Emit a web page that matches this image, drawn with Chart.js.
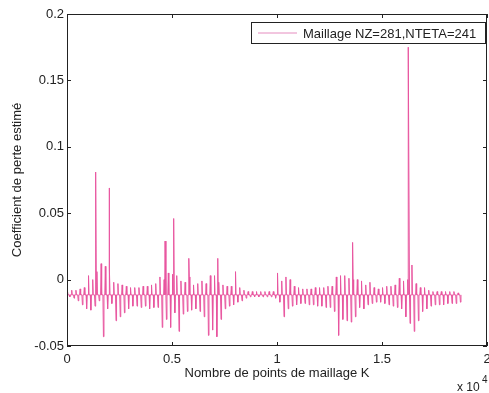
<!DOCTYPE html>
<html>
<head>
<meta charset="utf-8">
<script src="https://cdn.jsdelivr.net/npm/chart.js@4/dist/chart.umd.min.js"></script>
<style>
  html, body { margin: 0; padding: 0; background: #fff; }
  canvas { display: block; }
</style>
</head>
<body>
<canvas id="chart" width="489" height="393"></canvas>
<script>
const seriesLabel = 'Maillage NZ=281,NTETA=241';
const xTicks = [0, 5000, 10000, 15000, 20000];
const yTicks = [-0.05, 0, 0.05, 0.1, 0.15, 0.2];

// repeating ripple: one up tick and one down tick every 200 points
const periodK = 200;
const rippleBase = -0.0115;
const rippleHigh = [
  -0.009, -0.008, -0.008, -0.007, -0.006, 0.003, 0.000, 0.006, 0.012, 0.010,
  0.008, -0.002, -0.003, -0.004, -0.005, -0.006, -0.006, -0.006, -0.005, -0.005,
  -0.004, -0.003, 0.002, 0.000, 0.005, 0.004, 0.003, -0.001, -0.002, 0.002,
  -0.004, -0.003, -0.001, -0.003, 0.003, 0.003, -0.002, -0.004, -0.005, -0.005,
  0.006, -0.006, -0.008, -0.009, -0.009, -0.009, -0.009, -0.009, -0.009, -0.009,
  0.005, -0.001, 0.002, 0.000, -0.005, -0.006, -0.007, -0.007, -0.007, -0.006,
  -0.006, -0.006, -0.005, -0.005, 0.002, 0.003, 0.003, 0.001, 0.000, 0.000,
  -0.001, -0.004, -0.002, -0.006, -0.007, -0.006, -0.005, -0.005, -0.004, 0.001,
  -0.001, 0.000, 0.011, -0.003, -0.006, -0.006, -0.008, -0.009, -0.009, -0.009,
  -0.009, -0.009, -0.009, -0.010
];
const rippleLow = [
  -0.013, -0.014, -0.016, -0.019, -0.022, -0.023, -0.020, -0.016, -0.043, -0.022,
  -0.018, -0.031, -0.028, -0.025, -0.022, -0.020, -0.020, -0.021, -0.020, -0.022,
  -0.021, -0.021, -0.036, -0.030, -0.036, -0.025, -0.039, -0.026, -0.024, -0.023,
  -0.022, -0.024, -0.028, -0.042, -0.038, -0.043, -0.030, -0.022, -0.020, -0.019,
  -0.017, -0.016, -0.014, -0.013, -0.013, -0.013, -0.013, -0.013, -0.013, -0.014,
  -0.017, -0.028, -0.022, -0.020, -0.019, -0.018, -0.018, -0.019, -0.019, -0.020,
  -0.020, -0.021, -0.021, -0.024, -0.042, -0.030, -0.031, -0.032, -0.028, -0.021,
  -0.022, -0.019, -0.018, -0.017, -0.017, -0.018, -0.019, -0.020, -0.021, -0.022,
  -0.028, -0.033, -0.039, -0.031, -0.024, -0.022, -0.020, -0.019, -0.019, -0.019,
  -0.018, -0.018, -0.018, -0.017
];

// isolated tall peaks
const spikeK = [1370, 2010, 4670, 5080, 5800, 7180, 13600, 16250];
const spikeCoef = [0.081, 0.069, 0.029, 0.046, 0.016, 0.016, 0.028, 0.175];

// build line points: narrow up tick then narrow down tick, flat in between
const points = [];
rippleHigh.forEach((hi, i) => {
  const k = i * periodK;
  points.push({ x: k, y: rippleBase });
  points.push({ x: k + 25, y: hi });
  points.push({ x: k + 50, y: rippleBase });
  points.push({ x: k + 110, y: rippleBase });
  points.push({ x: k + 135, y: rippleLow[i] });
  points.push({ x: k + 160, y: rippleBase });
});
spikeK.forEach((k, i) => points.push({ x: k, y: spikeCoef[i] }));
points.sort((a, b) => a.x - b.x);

const lineColor = '#e8559f';
const axisColor = '#222';
const fontFamily = '"Liberation Sans", Arial, sans-serif';

// box + inward ticks like matlab
const framePlugin = {
  id: 'frame',
  afterDraw(chart) {
    const { ctx, chartArea: a, scales } = chart;
    ctx.save();
    ctx.strokeStyle = axisColor;
    ctx.lineWidth = 1;
    ctx.strokeRect(a.left + 0.5, a.top + 0.5, a.right - a.left - 1, a.bottom - a.top - 1);
    const len = 4;
    ctx.beginPath();
    xTicks.forEach(v => {
      const px = Math.round(scales.x.getPixelForValue(v)) + 0.5;
      ctx.moveTo(px, a.bottom); ctx.lineTo(px, a.bottom - len);
      ctx.moveTo(px, a.top); ctx.lineTo(px, a.top + len);
    });
    yTicks.forEach(v => {
      const py = Math.round(scales.y.getPixelForValue(v)) + 0.5;
      ctx.moveTo(a.left, py); ctx.lineTo(a.left + len, py);
      ctx.moveTo(a.right, py); ctx.lineTo(a.right - len, py);
    });
    ctx.stroke();

    // exponent label
    ctx.fillStyle = axisColor;
    ctx.textBaseline = 'alphabetic';
    ctx.textAlign = 'left';
    ctx.font = '12px ' + fontFamily;
    ctx.fillText('x 10', 457, 391);
    ctx.font = '10px ' + fontFamily;
    ctx.fillText('4', 482, 383);

    // legend box
    const bx = a.right - 236, by = a.top + 8, bw = 235, bh = 22;
    ctx.fillStyle = '#fff';
    ctx.fillRect(bx, by, bw, bh);
    ctx.strokeRect(bx + 0.5, by + 0.5, bw - 1, bh - 1);
    const my = by + bh / 2;
    ctx.strokeStyle = '#e58cbf';
    ctx.beginPath();
    ctx.moveTo(bx + 7, my); ctx.lineTo(bx + 46, my);
    ctx.stroke();
    ctx.fillStyle = axisColor;
    ctx.font = '13px ' + fontFamily;
    ctx.textBaseline = 'middle';
    ctx.fillText(chart.data.datasets[0].label, bx + 52, my + 1);
    ctx.restore();
  }
};

new Chart(document.getElementById('chart'), {
  type: 'line',
  data: {
    datasets: [{
      label: seriesLabel,
      data: points,
      borderColor: lineColor,
      borderWidth: 1,
      pointRadius: 0,
      tension: 0,
      fill: false
    }]
  },
  options: {
    responsive: false,
    animation: false,
    devicePixelRatio: 1,
    layout: { padding: { left: 0, right: 2, top: 14, bottom: 0 } },
    plugins: { legend: { display: false }, tooltip: { enabled: false } },
    scales: {
      x: {
        type: 'linear',
        min: 0,
        max: 20000,
        afterBuildTicks: s => { s.ticks = xTicks.map(v => ({ value: v })); },
        afterFit: s => { s.height = 47; s.paddingLeft = 0; s.paddingRight = 0; },
        grid: { display: false, drawTicks: false },
        border: { display: false },
        ticks: {
          padding: 6,
          maxRotation: 0,
          color: axisColor,
          font: { family: fontFamily, size: 13 },
          callback: v => String(v / 10000)
        },
        title: {
          display: true,
          text: 'Nombre de points de maillage K',
          color: axisColor,
          font: { family: fontFamily, size: 13 },
          padding: { top: 0, bottom: 12 }
        }
      },
      y: {
        min: -0.05,
        max: 0.2,
        afterBuildTicks: s => { s.ticks = yTicks.map(v => ({ value: v })); },
        afterFit: s => { s.width = 67; s.paddingTop = 0; s.paddingBottom = 0; },
        grid: { display: false, drawTicks: false },
        border: { display: false },
        ticks: {
          padding: 3,
          color: axisColor,
          font: { family: fontFamily, size: 13 },
          callback: v => String(Number(v.toFixed(2)))
        },
        title: {
          display: true,
          text: 'Coefficient de perte estimé',
          color: axisColor,
          font: { family: fontFamily, size: 13 },
          padding: { top: 10, bottom: 0 }
        }
      }
    }
  },
  plugins: [framePlugin]
});
</script>
</body>
</html>
